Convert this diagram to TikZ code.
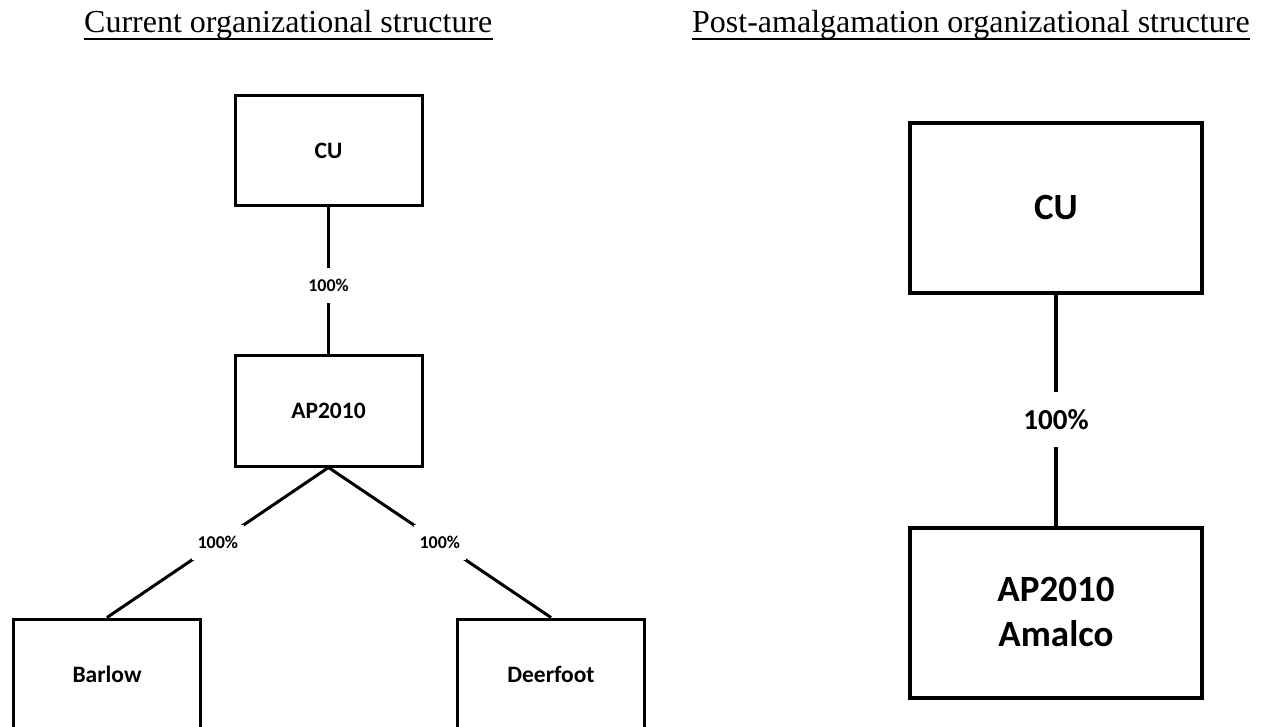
\documentclass[tikz,border=0pt]{standalone}
\usepackage{fontspec}
\setmainfont{Liberation Serif}
\newfontfamily\calibri{Carlito}
\begin{document}
\begin{tikzpicture}[x=1pt,y=-1pt,
  lbox/.style={draw, line width=3pt, minimum width=187pt, minimum height=110pt, inner sep=0pt,
    font=\calibri\bfseries\fontsize{23.5}{28}\selectfont},
  rbox/.style={draw, line width=4pt, minimum width=292pt, minimum height=170pt, inner sep=0pt, align=center,
    font=\calibri\bfseries\fontsize{37}{45}\selectfont},
  lline/.style={line width=3pt},
  rline/.style={line width=4pt},
  lpct/.style={fill=white, inner xsep=6pt, inner ysep=11.5pt,
    font=\calibri\bfseries\fontsize{18}{21}\selectfont},
  rpct/.style={fill=white, inner xsep=8pt, inner ysep=17pt,
    font=\calibri\bfseries\fontsize{29}{34}\selectfont},
  ttl/.style={anchor=base west, inner sep=0pt, font=\fontsize{32}{38}\selectfont},
  uline/.style={line width=2pt}
]
\clip (0,0) rectangle (1262,727);
\fill[white] (0,0) rectangle (1262,727);

% titles
\node[ttl] (t1) at (84,33) {Current organizational structure};
\draw[uline] ([yshift=-6pt]t1.base west) -- ([yshift=-6pt]t1.base east);
\node[ttl] (t2) at (692,33) {Post-amalgamation organizational structure};
\draw[uline] ([yshift=-6pt]t2.base west) -- ([yshift=-6pt]t2.base east);

% left structure
\node[lbox] (cu1) at (328.5,151) {CU};
\node[lbox] (ap1) at (328.5,411) {AP2010};
\node[lbox] (bar) at (107,674) {Barlow};
\node[lbox] (dee) at (551,674) {Deerfoot};
\draw[lline] (cu1.south) -- node[lpct,pos=0.53]{100\%} (ap1.north);
\draw[lline] (ap1.south) -- node[lpct]{100\%} (bar.north);
\draw[lline] (ap1.south) -- node[lpct]{100\%} (dee.north);

% right structure
\node[rbox] (cu2) at (1056,208) {CU};
\node[rbox] (am) at (1056,612.5) {AP2010\\Amalco};
\draw[rline] (cu2.south) -- node[rpct,pos=0.54]{100\%} (am.north);
\end{tikzpicture}
\end{document}
